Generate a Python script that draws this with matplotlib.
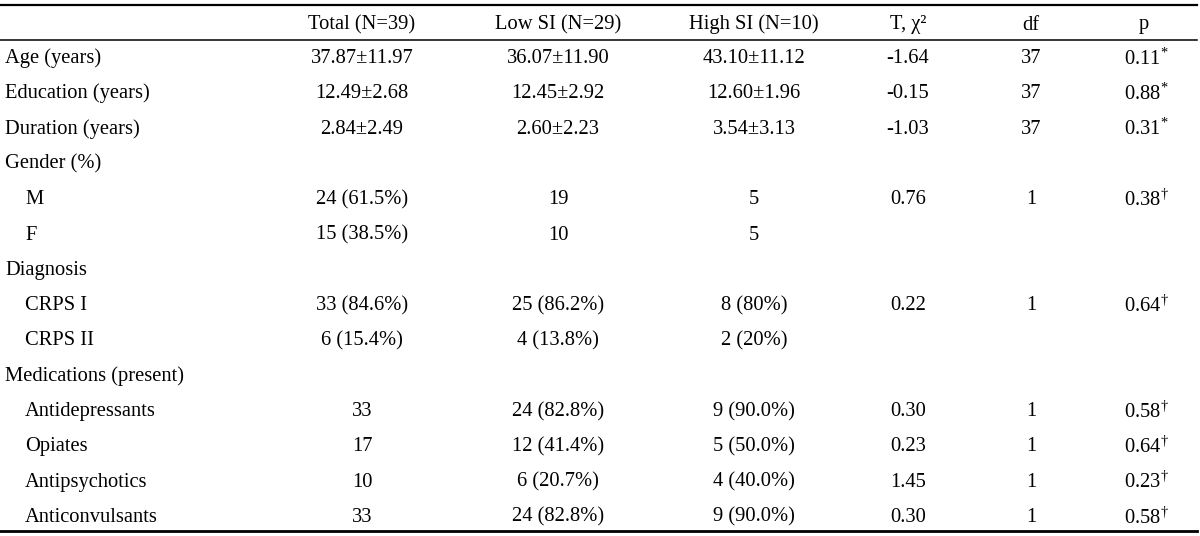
import matplotlib
matplotlib.use('Agg')
import matplotlib.pyplot as plt

plt.rcParams['font.family'] = ['Liberation Serif', 'DejaVu Serif']
plt.rcParams['mathtext.fontset'] = 'custom'
plt.rcParams['mathtext.rm'] = 'Liberation Serif'
plt.rcParams['mathtext.it'] = 'Liberation Serif:italic'

# table content
headers = ['', 'Total (N=39)', 'Low SI (N=29)', 'High SI (N=10)', 'T, χ²', 'df', 'p']
row_labels = ['Age (years)', 'Education (years)', 'Duration (years)', 'Gender (%)',
              'M', 'F', 'Diagnosis', 'CRPS I', 'CRPS II', 'Medications (present)',
              'Antidepressants', 'Opiates', 'Antipsychotics', 'Anticonvulsants']
indented = [False, False, False, False, True, True, False, True, True, False,
            True, True, True, True]
total = ['37.87±11.97', '12.49±2.68', '2.84±2.49', '', '24 (61.5%)', '15 (38.5%)', '',
         '33 (84.6%)', '6 (15.4%)', '', '33', '17', '10', '33']
low_si = ['36.07±11.90', '12.45±2.92', '2.60±2.23', '', '19', '10', '',
          '25 (86.2%)', '4 (13.8%)', '', '24 (82.8%)', '12 (41.4%)', '6 (20.7%)', '24 (82.8%)']
high_si = ['43.10±11.12', '12.60±1.96', '3.54±3.13', '', '5', '5', '',
           '8 (80%)', '2 (20%)', '', '9 (90.0%)', '5 (50.0%)', '4 (40.0%)', '9 (90.0%)']
t_chi = ['-1.64', '-0.15', '-1.03', '', '0.76', '', '', '0.22', '', '', '0.30', '0.23', '1.45', '0.30']
dof = ['37', '37', '37', '', '1', '', '', '1', '', '', '1', '1', '1', '1']
p_val = ['0.11', '0.88', '0.31', '', '0.38', '', '', '0.64', '', '', '0.58', '0.64', '0.23', '0.58']
p_mark = ['*', '*', '*', '', '†', '', '', '†', '', '', '†', '†', '†', '†']

fig = plt.figure(figsize=(12, 5.36), dpi=100)
ax = fig.add_axes([0, 0, 1, 1])
ax.set_xlim(0, 1200)
ax.set_ylim(536, 0)
ax.axis('off')

fs = 14.8
col_x = [5, 362, 558, 754, 908, 1031, 1144]

# rules
ax.plot([0, 1197], [5, 5], color='black', lw=1.6)
ax.plot([0, 1197], [40, 40], color='black', lw=1.1)
ax.plot([0, 1197], [531, 531], color='black', lw=2.0)

# header (baseline aligned)
for i, h in enumerate(headers):
    if h:
        ax.text(col_x[i], 29.5, h, ha='center', va='baseline', fontsize=fs)

# body
y0, dy = 63, 35.3
for r, lab in enumerate(row_labels):
    y = y0 + r * dy
    ax.text(col_x[0] + (20 if indented[r] else 0), y, lab, ha='left', va='baseline', fontsize=fs)
    for c, col in enumerate([total, low_si, high_si, t_chi, dof]):
        if col[r]:
            ax.text(col_x[c + 1], y, col[r], ha='center', va='baseline', fontsize=fs)
    if p_val[r]:
        mark = r'$^{*}$' if p_mark[r] == '*' else r'$^{\dagger}$'
        ax.text(col_x[6] + 2, y + 1.5, p_val[r] + mark, ha='center', va='baseline', fontsize=fs)

fig.savefig('out.png', dpi=100, facecolor='white')
